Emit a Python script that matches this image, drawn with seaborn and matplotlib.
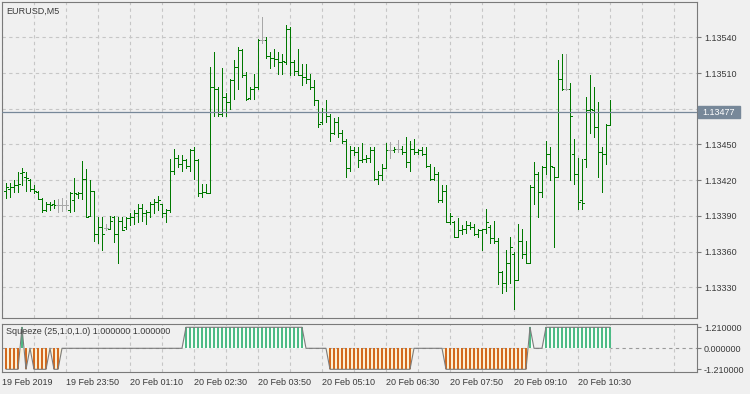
import numpy as np
import pandas as pd
import matplotlib
matplotlib.use("Agg")
import matplotlib.pyplot as plt
from matplotlib.patches import Rectangle
from matplotlib.transforms import blended_transform_factory
import seaborn as sns

# ----------------------------------------
# Data (EURUSD M5)
# ----------------------------------------

opens = [
    1.13411, 1.13413, 1.13414, 1.13416, 1.13426, 1.13423, 1.13420, 1.13413, 1.13410, 1.13404,
    1.13395, 1.13400, 1.13400, 1.13399, 1.13399, 1.13399, 1.13395, 1.13403, 1.13408, 1.13409,
    1.13421, 1.13390, 1.13411, 1.13375, 1.13381, 1.13380, 1.13379, 1.13389, 1.13375, 1.13386,
    1.13381, 1.13388, 1.13389, 1.13392, 1.13397, 1.13392, 1.13393, 1.13400, 1.13402, 1.13400,
    1.13392, 1.13395, 1.13428, 1.13439, 1.13434, 1.13437, 1.13432, 1.13445, 1.13437, 1.13409,
    1.13410, 1.13409, 1.13498, 1.13497, 1.13476, 1.13490, 1.13486, 1.13504, 1.13515, 1.13529,
    1.13508, 1.13489, 1.13497, 1.13498, 1.13538, 1.13538, 1.13524, 1.13523, 1.13522, 1.13519,
    1.13519, 1.13547, 1.13519, 1.13512, 1.13508, 1.13507, 1.13505, 1.13498, 1.13487, 1.13469,
    1.13477, 1.13474, 1.13460, 1.13469, 1.13460, 1.13453, 1.13430, 1.13445, 1.13444, 1.13437,
    1.13438, 1.13439, 1.13445, 1.13421, 1.13424, 1.13430, 1.13445, 1.13445, 1.13446, 1.13446,
    1.13444, 1.13435, 1.13446, 1.13444, 1.13445, 1.13442, 1.13432, 1.13421, 1.13425, 1.13403,
    1.13411, 1.13385, 1.13385, 1.13372, 1.13378, 1.13379, 1.13382, 1.13381, 1.13375, 1.13378,
    1.13379, 1.13381, 1.13371, 1.13369, 1.13343, 1.13334, 1.13350, 1.13358, 1.13336, 1.13369,
    1.13358, 1.13350, 1.13414, 1.13425, 1.13410, 1.13431, 1.13442, 1.13431, 1.13423, 1.13505,
    1.13497, 1.13497, 1.13442, 1.13425, 1.13403, 1.13438, 1.13479, 1.13479, 1.13465, 1.13444,
    1.13442, 1.13466,
]
highs = [
    1.13418, 1.13418, 1.13420, 1.13427, 1.13430, 1.13427, 1.13421, 1.13416, 1.13411, 1.13405,
    1.13402, 1.13402, 1.13403, 1.13404, 1.13405, 1.13403, 1.13410, 1.13422, 1.13410, 1.13436,
    1.13429, 1.13420, 1.13411, 1.13389, 1.13389, 1.13383, 1.13390, 1.13390, 1.13389, 1.13389,
    1.13389, 1.13392, 1.13395, 1.13400, 1.13400, 1.13395, 1.13402, 1.13404, 1.13407, 1.13400,
    1.13396, 1.13438, 1.13446, 1.13441, 1.13441, 1.13438, 1.13446, 1.13448, 1.13438, 1.13417,
    1.13417, 1.13515, 1.13528, 1.13498, 1.13514, 1.13493, 1.13505, 1.13521, 1.13532, 1.13530,
    1.13511, 1.13498, 1.13509, 1.13539, 1.13557, 1.13540, 1.13528, 1.13530, 1.13528, 1.13526,
    1.13550, 1.13549, 1.13521, 1.13530, 1.13518, 1.13518, 1.13509, 1.13504, 1.13487, 1.13481,
    1.13487, 1.13476, 1.13472, 1.13473, 1.13462, 1.13455, 1.13449, 1.13448, 1.13448, 1.13451,
    1.13441, 1.13448, 1.13448, 1.13428, 1.13434, 1.13451, 1.13452, 1.13448, 1.13454, 1.13449,
    1.13456, 1.13453, 1.13455, 1.13446, 1.13448, 1.13448, 1.13434, 1.13431, 1.13427, 1.13416,
    1.13416, 1.13392, 1.13386, 1.13388, 1.13382, 1.13386, 1.13385, 1.13383, 1.13379, 1.13379,
    1.13396, 1.13382, 1.13386, 1.13371, 1.13344, 1.13361, 1.13372, 1.13360, 1.13383, 1.13379,
    1.13369, 1.13416, 1.13435, 1.13427, 1.13432, 1.13453, 1.13448, 1.13431, 1.13521, 1.13526,
    1.13526, 1.13502, 1.13455, 1.13439, 1.13438, 1.13490, 1.13508, 1.13498, 1.13486, 1.13448,
    1.13467, 1.13487,
]
lows = [
    1.13405, 1.13406, 1.13410, 1.13410, 1.13416, 1.13411, 1.13411, 1.13409, 1.13404, 1.13393,
    1.13394, 1.13395, 1.13397, 1.13393, 1.13394, 1.13396, 1.13393, 1.13394, 1.13405, 1.13404,
    1.13389, 1.13390, 1.13369, 1.13367, 1.13361, 1.13378, 1.13379, 1.13368, 1.13350, 1.13378,
    1.13379, 1.13382, 1.13383, 1.13385, 1.13386, 1.13383, 1.13389, 1.13392, 1.13395, 1.13389,
    1.13385, 1.13393, 1.13425, 1.13431, 1.13428, 1.13430, 1.13428, 1.13421, 1.13407, 1.13406,
    1.13409, 1.13409, 1.13474, 1.13474, 1.13474, 1.13474, 1.13480, 1.13488, 1.13497, 1.13507,
    1.13487, 1.13488, 1.13488, 1.13497, 1.13535, 1.13523, 1.13514, 1.13516, 1.13509, 1.13509,
    1.13518, 1.13508, 1.13508, 1.13508, 1.13500, 1.13502, 1.13497, 1.13483, 1.13465, 1.13467,
    1.13469, 1.13453, 1.13459, 1.13456, 1.13451, 1.13423, 1.13428, 1.13441, 1.13431, 1.13435,
    1.13435, 1.13435, 1.13420, 1.13417, 1.13420, 1.13430, 1.13439, 1.13444, 1.13444, 1.13442,
    1.13431, 1.13428, 1.13442, 1.13442, 1.13441, 1.13431, 1.13420, 1.13420, 1.13402, 1.13402,
    1.13385, 1.13383, 1.13372, 1.13372, 1.13375, 1.13376, 1.13379, 1.13374, 1.13372, 1.13361,
    1.13376, 1.13367, 1.13367, 1.13333, 1.13325, 1.13327, 1.13334, 1.13312, 1.13336, 1.13355,
    1.13350, 1.13350, 1.13400, 1.13389, 1.13406, 1.13425, 1.13420, 1.13364, 1.13423, 1.13496,
    1.13496, 1.13420, 1.13417, 1.13396, 1.13396, 1.13431, 1.13460, 1.13456, 1.13423, 1.13410,
    1.13434, 1.13466,
]
closes = [
    1.13414, 1.13414, 1.13416, 1.13417, 1.13427, 1.13422, 1.13413, 1.13411, 1.13404, 1.13395,
    1.13400, 1.13399, 1.13399, 1.13399, 1.13399, 1.13399, 1.13409, 1.13409, 1.13409, 1.13421,
    1.13389, 1.13411, 1.13375, 1.13381, 1.13375, 1.13380, 1.13386, 1.13375, 1.13386, 1.13378,
    1.13388, 1.13389, 1.13392, 1.13397, 1.13392, 1.13393, 1.13400, 1.13402, 1.13403, 1.13392,
    1.13395, 1.13428, 1.13439, 1.13434, 1.13437, 1.13432, 1.13445, 1.13437, 1.13409, 1.13410,
    1.13409, 1.13498, 1.13497, 1.13476, 1.13490, 1.13486, 1.13504, 1.13515, 1.13529, 1.13508,
    1.13488, 1.13497, 1.13498, 1.13538, 1.13538, 1.13524, 1.13523, 1.13522, 1.13519, 1.13520,
    1.13547, 1.13519, 1.13512, 1.13508, 1.13507, 1.13505, 1.13498, 1.13487, 1.13467, 1.13477,
    1.13474, 1.13460, 1.13469, 1.13460, 1.13453, 1.13430, 1.13445, 1.13444, 1.13437, 1.13438,
    1.13439, 1.13445, 1.13421, 1.13424, 1.13430, 1.13445, 1.13445, 1.13446, 1.13446, 1.13444,
    1.13435, 1.13446, 1.13444, 1.13445, 1.13442, 1.13432, 1.13421, 1.13425, 1.13403, 1.13411,
    1.13385, 1.13390, 1.13372, 1.13378, 1.13379, 1.13382, 1.13381, 1.13375, 1.13378, 1.13379,
    1.13385, 1.13371, 1.13369, 1.13343, 1.13334, 1.13350, 1.13364, 1.13336, 1.13369, 1.13358,
    1.13350, 1.13414, 1.13425, 1.13410, 1.13431, 1.13442, 1.13432, 1.13423, 1.13505, 1.13497,
    1.13497, 1.13474, 1.13425, 1.13402, 1.13401, 1.13479, 1.13480, 1.13465, 1.13444, 1.13442,
    1.13466, 1.13477,
]

# squeeze histogram direction per bar (+1 green, -1 orange, 0 none)
squeeze_dir = [
    -1, -1, -1, -1, 1, -1, 0, -1, -1, -1,
    -1, 0, -1, -1, 0, 0, 0, 0, 0, 0,
    0, 0, 0, 0, 0, 0, 0, 0, 0, 0,
    0, 0, 0, 0, 0, 0, 0, 0, 0, 0,
    0, 0, 0, 0, 0, 1, 1, 1, 1, 1,
    1, 1, 1, 1, 1, 1, 1, 1, 1, 1,
    1, 1, 1, 1, 1, 1, 1, 1, 1, 1,
    1, 1, 1, 1, 1, 0, 0, 0, 0, 0,
    0, -1, -1, -1, -1, -1, -1, -1, -1, -1,
    -1, -1, -1, -1, -1, -1, -1, -1, -1, -1,
    -1, -1, 0, 0, 0, 0, 0, 0, 0, 0,
    -1, -1, -1, -1, -1, -1, -1, -1, -1, -1,
    -1, -1, -1, -1, -1, -1, -1, -1, -1, -1,
    -1, 1, 0, 0, 0, 1, 1, 1, 1, 1,
    1, 1, 1, 1, 1, 1, 1, 1, 1, 1,
    1, 1,
]
squeeze_level = 1.21

price_ticks = [1.13330, 1.13360, 1.13390, 1.13420, 1.13450, 1.13480, 1.13510, 1.13540]
current_price = 1.13477
squeeze_ticks = [-1.21, 0.0, 1.21]
squeeze_labels = ["-1.210000", "0.000000", "1.210000"]
time_labels = ["19 Feb 2019", "19 Feb 23:50", "20 Feb 01:10", "20 Feb 02:30", "20 Feb 03:50",
               "20 Feb 05:10", "20 Feb 06:30", "20 Feb 07:50", "20 Feb 09:10", "20 Feb 10:30"]
time_label_bars = [-1, 15, 31, 47, 63, 79, 95, 111, 127, 143]

# ----------------------------------------
# Prepare frames
# ----------------------------------------

df = pd.DataFrame({"open": opens, "high": highs, "low": lows, "close": closes})
df["bar"] = np.arange(len(df))
df["doji"] = df["open"].round(5) == df["close"].round(5)

sq = pd.DataFrame({"bar": np.arange(len(squeeze_dir)),
                   "value": np.array(squeeze_dir) * squeeze_level})
# outline only where the histogram is active (or next to it)
active = ((sq["value"] != 0)
          | (sq["value"].shift(1, fill_value=0) != 0)
          | (sq["value"].shift(-1, fill_value=0) != 0))
sq["outline"] = sq["value"].where(active)

# ----------------------------------------
# Style
# ----------------------------------------

bg = "#f0f0f0"
frame = "#7a7a7a"
grid_col = "#c6c6c6"
txt = "#3a3a3a"

sns.set_theme(style="whitegrid", rc={
    "figure.facecolor": bg,
    "axes.facecolor": bg,
    "axes.edgecolor": frame,
    "axes.linewidth": 0.8,
    "xtick.color": frame,
    "ytick.color": frame,
})
plt.rcParams["font.family"] = ["Liberation Sans", "DejaVu Sans"]
plt.rcParams["font.size"] = 6.5

W, H = 750, 394
fig = plt.figure(figsize=(W / 100, H / 100), dpi=100)


def px_axes(left, top, right, bottom):
    return fig.add_axes([left / W, 1 - bottom / H, (right - left) / W, (bottom - top) / H])


ax = px_axes(2, 2, 697, 318)
ax2 = px_axes(2, 324, 697, 372)

x_min, x_max = -1.0, 172.75
grid_major = np.arange(-1, 172, 16)
grid_minor = np.arange(7, 172, 16)

# ----------------------------------------
# Main price chart (OHLC bars)
# ----------------------------------------

up = df[~df["doji"]]
dj = df[df["doji"]]
for part, col in [(up, "#007800"), (dj, "#a8a8a8")]:
    ax.vlines(part["bar"], part["low"], part["high"], color=col, lw=0.72, antialiased=False)
    ax.hlines(part["open"], part["bar"] - 0.45, part["bar"], color=col, lw=0.72, antialiased=False)
    ax.hlines(part["close"], part["bar"], part["bar"] + 0.45, color=col, lw=0.72, antialiased=False)

ax.axhline(current_price, color="#778899", lw=0.9, zorder=3)

ax.set_xlim(x_min, x_max)
ax.set_ylim(1.133042, 1.135697)
ax.set_xticks(grid_major)
ax.set_xticks(grid_minor, minor=True)
ax.tick_params(axis="x", which="both", length=0, labelbottom=False)
ax.set_yticks(price_ticks)
# the 1.13480 label sits under the current price tag
ax.set_yticklabels(["" if abs(p - current_price) < 0.0001 else f"{p:.5f}" for p in price_ticks])
ax.yaxis.tick_right()
ax.tick_params(axis="y", length=3, width=0.8, pad=2, labelcolor=txt, labelsize=6.5)
ax.grid(True, which="both", color=grid_col, linestyle=(0, (3, 3)), lw=0.8)
for s in ax.spines.values():
    s.set_color(frame)
    s.set_linewidth(0.8)

ax.text(0.006, 0.985, "EURUSD,M5", transform=ax.transAxes, ha="left", va="top",
        color=txt, fontsize=6.5)

# current price tag on the scale
tr = blended_transform_factory(ax.transAxes, ax.transData)
tag_h = 0.000051
ax.add_patch(Rectangle((1.0015, current_price - tag_h), 0.0605, 2 * tag_h, transform=tr,
                       color="#778899", clip_on=False, zorder=5))
ax.text(1.0075, current_price, f"{current_price:.5f}", transform=tr, ha="left", va="center",
        color="white", fontsize=6.5, clip_on=False, zorder=6)

# ----------------------------------------
# Squeeze sub-window
# ----------------------------------------

ax2.fill_between(sq["bar"], 0, np.minimum(sq["value"], 0), color="#fbf1d6", lw=0, zorder=1)
ax2.fill_between(sq["bar"], 0, np.maximum(sq["value"], 0), color="#f7fcf8", lw=0, zorder=1)
neg = sq[sq["value"] < 0]
pos = sq[sq["value"] > 0]
ax2.vlines(neg["bar"], 0, neg["value"], color="#d2691e", lw=1.4, antialiased=False, zorder=2)
ax2.vlines(pos["bar"], 0, pos["value"], color="#4cbb85", lw=1.4, antialiased=False, zorder=2)
sns.lineplot(data=sq, x="bar", y="outline", ax=ax2, color="#7c7c7c", lw=0.8,
             estimator=None, legend=False, zorder=3)
ax2.axhline(0, color="#9a9a9a", lw=0.8, linestyle=(0, (3, 3)), zorder=0)

ax2.set_xlim(x_min, x_max)
ax2.set_ylim(-1.365, 1.40)
ax2.set_xticks(time_label_bars)
ax2.set_xticklabels(time_labels, ha="left")
ax2.set_xticks(grid_minor, minor=True)
ax2.tick_params(axis="x", which="major", length=3, width=0.8, pad=1.5, labelcolor=txt, labelsize=6.5)
ax2.tick_params(axis="x", which="minor", length=0)
ax2.set_yticks(squeeze_ticks)
ax2.set_yticklabels(squeeze_labels)
ax2.yaxis.tick_right()
ax2.tick_params(axis="y", length=3, width=0.8, pad=2, labelcolor=txt, labelsize=6.5)
ax2.grid(True, axis="x", which="both", color=grid_col, linestyle=(0, (3, 3)), lw=0.8)
ax2.grid(False, axis="y")
ax2.set_xlabel("")
ax2.set_ylabel("")
for s in ax2.spines.values():
    s.set_color(frame)
    s.set_linewidth(0.8)

ax2.text(0.006, 0.93, "Squeeze (25,1.0,1.0) 1.000000 1.000000", transform=ax2.transAxes,
         ha="left", va="top", color=txt, fontsize=6.5, zorder=6)

fig.savefig("out.png", dpi=100, facecolor=bg)
